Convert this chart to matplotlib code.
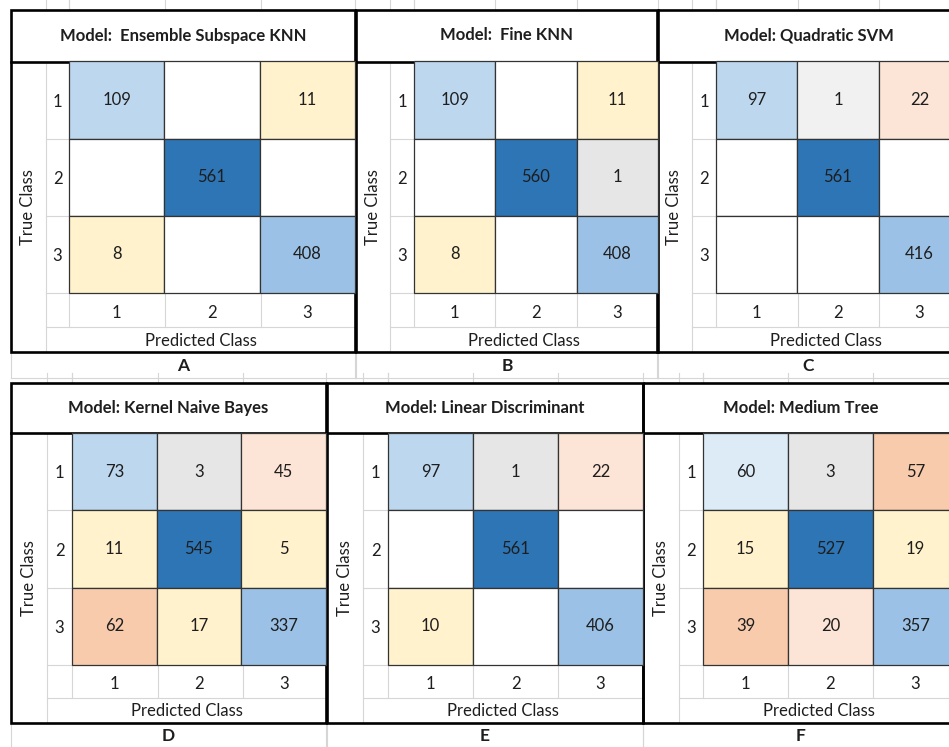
import matplotlib
matplotlib.use("Agg")
import matplotlib.pyplot as plt
from matplotlib.patches import Rectangle

plt.rcParams["font.family"] = ["Lato", "DejaVu Sans"]

# ---- data ---------------------------------------------------------------
models = [
    "Model:  Ensemble Subspace KNN",
    "Model:  Fine KNN",
    "Model: Quadratic SVM",
    "Model: Kernel Naive Bayes",
    "Model: Linear Discriminant",
    "Model: Medium Tree",
]
letters = ["A", "B", "C", "D", "E", "F"]
class_labels = ["1", "2", "3"]

cm_a = [[109, 0, 11], [0, 561, 0], [8, 0, 408]]
cm_b = [[109, 0, 11], [0, 560, 1], [8, 0, 408]]
cm_c = [[97, 1, 22], [0, 561, 0], [0, 0, 416]]
cm_d = [[73, 3, 45], [11, 545, 5], [62, 17, 337]]
cm_e = [[97, 1, 22], [0, 561, 0], [10, 0, 406]]
cm_f = [[60, 3, 57], [15, 527, 19], [39, 20, 357]]
matrices = [cm_a, cm_b, cm_c, cm_d, cm_e, cm_f]

# cell shading used in the sheet (manual conditional colours)
shade_a = [["b1", "w", "y"], ["w", "b3", "w"], ["y", "w", "b2"]]
shade_b = [["b1", "w", "y"], ["w", "b3", "g"], ["y", "w", "b2"]]
shade_c = [["b1", "g0", "p"], ["w", "b3", "w"], ["w", "w", "b2"]]
shade_d = [["b1", "g", "p"], ["y", "b3", "y"], ["o", "y", "b2"]]
shade_e = [["b1", "g", "p"], ["w", "b3", "w"], ["y", "w", "b2"]]
shade_f = [["b0", "g", "o"], ["y", "b3", "y"], ["o", "p", "b2"]]
shades = [shade_a, shade_b, shade_c, shade_d, shade_e, shade_f]

PALETTE = {
    "w": "#FFFFFF", "b0": "#DDEBF7", "b1": "#BDD7EE", "b2": "#9BC2E6",
    "b3": "#2E75B6", "g": "#E6E6E6", "g0": "#F1F1F1", "y": "#FFF2CC",
    "p": "#FCE4D6", "o": "#F8CBAD",
}

# ---- sheet layout (pixels) ---------------------------------------------
W, H = 949, 747
GRID = "#D6D6D6"
INK = "#1E1E1E"
FS = 12

# x: left border, True Class col right, row-label col right, matrix col edges
PANEL_X = [
    (11, 46, 69, [69, 165, 261, 355]),
    (356, 390, 414, [414, 495, 577, 658]),
    (657, 692, 716, [716, 798, 879, 960]),
    (11, 47, 72, [72, 158, 243, 326]),
    (327, 363, 388, [388, 473, 558, 643]),
    (643, 679, 703, [703, 788, 873, 958]),
]
# y: top, title bottom, matrix top, matrix bottom, tick row bottom, bottom, letter row bottom
ROW_Y = [
    (9.5, 61.5, 61.5, 293, 327, 352, 378),
    (383, 433, 433, 665, 698, 723, 760),
]

fig = plt.figure(figsize=(W / 100, H / 100), dpi=100)
bg = fig.add_axes([0, 0, 1, 1])
bg.set_xlim(0, W)
bg.set_ylim(H, 0)
bg.axis("off")


def fig_rect(x0, y0, x1, y1):
    return [x0 / W, 1 - y1 / H, (x1 - x0) / W, (y1 - y0) / H]


for k in range(6):
    left, tc_r, rl_r, cols = PANEL_X[k]
    right = cols[-1]
    top, title_b, m_top, m_bot, tick_b, bot, let_b = ROW_Y[k // 3]
    cx = (left + right) / 2

    # faint spreadsheet gridlines around the table
    for x in [tc_r, rl_r] + cols:
        bg.plot([x, x], [top - 10, top], color=GRID, lw=0.8, zorder=1)
    for x in [left, right]:
        bg.plot([x, x], [bot, let_b], color=GRID, lw=0.8, zorder=1)
    bg.plot([left, right], [let_b, let_b], color=GRID, lw=0.8, zorder=1)
    bg.plot([tc_r, tc_r], [title_b, bot], color=GRID, lw=0.8, zorder=1)
    for x in cols:
        bg.plot([x, x], [m_bot, tick_b], color=GRID, lw=0.8, zorder=1)
    bg.plot([tc_r, rl_r], [m_bot, m_bot], color=GRID, lw=0.8, zorder=1)
    bg.plot([tc_r, right], [tick_b, tick_b], color=GRID, lw=0.8, zorder=1)
    row_h = (m_bot - m_top) / 3
    for i in range(1, 3):
        y = m_top + i * row_h
        bg.plot([tc_r, rl_r], [y, y], color=GRID, lw=0.8, zorder=1)

    # thick table frame and title separator
    bg.add_patch(Rectangle((left, top), right - left, bot - top, fill=False,
                           ec="black", lw=1.9, zorder=5))
    bg.plot([left, right], [title_b, title_b], color="black", lw=1.9, zorder=5)

    bg.text(cx, (top + title_b) / 2, models[k], ha="center", va="center",
            fontsize=FS, fontweight="bold", color=INK)
    bg.text((left + tc_r) / 2, (title_b + bot) / 2, "True Class",
            rotation=90, ha="center", va="center", fontsize=FS, color=INK)
    bg.text((tc_r + right) / 2, (tick_b + bot) / 2 + 1, "Predicted Class",
            ha="center", va="center", fontsize=FS, color=INK)
    bg.text(cx, (bot + min(let_b, H)) / 2 + 1, letters[k], ha="center",
            va="center", fontsize=12.5, fontweight="bold", color=INK)

    # confusion matrix on its own axes
    ax = fig.add_axes(fig_rect(cols[0], m_top, right, m_bot))
    ax.set_xlim(0.5, 3.5)
    ax.set_ylim(3.5, 0.5)
    cm = matrices[k]
    sh = shades[k]
    for i in range(3):
        for j in range(3):
            ax.add_patch(Rectangle((j + 0.5, i + 0.5), 1, 1,
                                   fc=PALETTE[sh[i][j]], ec="#333333",
                                   lw=0.9, clip_on=False))
            if cm[i][j]:
                ax.text(j + 1, i + 1, str(cm[i][j]), ha="center",
                        va="center", fontsize=FS, color=INK)
    ax.set_xticks([1, 2, 3])
    ax.set_xticklabels(class_labels, fontsize=FS, color=INK)
    ax.set_yticks([1, 2, 3])
    ax.set_yticklabels(class_labels, fontsize=FS, color=INK, ha="center")
    ax.tick_params(axis="x", length=0, pad=(tick_b - m_bot) * 0.72 / 2 - 3.8)
    ax.tick_params(axis="y", length=0, pad=(rl_r - tc_r) * 0.72 / 2)
    for s in ax.spines.values():
        s.set_visible(False)

fig.savefig("out.png", dpi=100)
